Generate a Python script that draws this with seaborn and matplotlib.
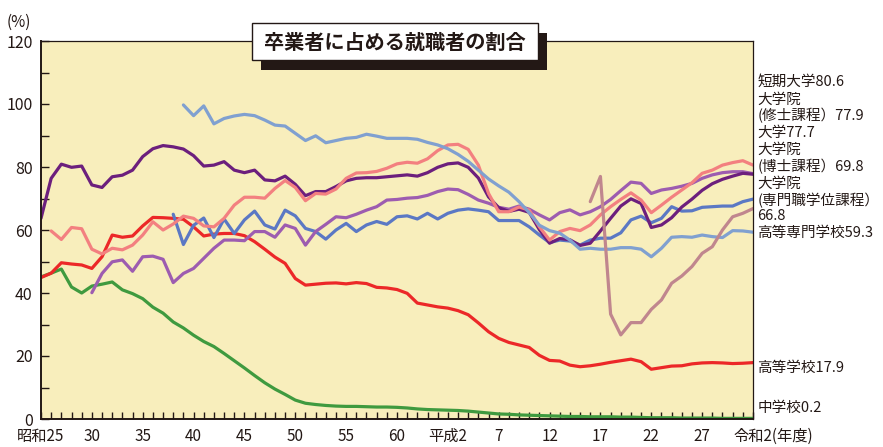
"""卒業者に占める就職者の割合 (学校種別, 昭和25年度～令和2年度)."""

import pandas as pd
import seaborn as sns
import matplotlib.pyplot as plt
import matplotlib.transforms as mtransforms
from matplotlib.patches import Rectangle
from matplotlib.ticker import MultipleLocator

# --- data (年度 = western year, 1950 = 昭和25) ---
JHS_START = 1950
JHS = [45.1, 46.3, 47.6, 41.9, 40.0, 42.2, 42.8, 43.5, 41.0, 39.8,
       38.2, 35.5, 33.6, 30.8, 28.9, 26.6, 24.6, 23.0, 20.8, 18.5,
       16.2, 13.8, 11.5, 9.5, 7.8, 6.0, 5.0, 4.6, 4.3, 4.1,
       4.0, 4.0, 3.9, 3.8, 3.8, 3.7, 3.5, 3.2, 3.0, 2.9,
       2.8, 2.7, 2.5, 2.2, 1.9, 1.6, 1.5, 1.3, 1.2, 1.1,
       1.0, 0.9, 0.8, 0.8, 0.7, 0.7, 0.7, 0.6, 0.6, 0.5,
       0.4, 0.4, 0.4, 0.3, 0.3, 0.3, 0.3, 0.2, 0.2, 0.2, 0.2]

HS_START = 1950
HS = [44.9, 46.3, 49.6, 49.2, 48.9, 47.8, 51.5, 58.4, 57.7, 58.1,
      61.3, 64.0, 63.9, 63.7, 63.4, 61.0, 58.1, 58.7, 58.9, 58.9,
      58.2, 56.3, 53.9, 51.4, 49.4, 44.6, 42.5, 42.8, 43.1, 43.2,
      42.9, 43.3, 43.0, 41.8, 41.6, 41.1, 39.9, 36.8, 36.2, 35.6,
      35.2, 34.4, 33.1, 30.5, 27.7, 25.6, 24.3, 23.5, 22.7, 20.2,
      18.6, 18.4, 17.1, 16.6, 16.9, 17.4, 18.0, 18.5, 19.0, 18.2,
      15.8, 16.3, 16.8, 16.9, 17.5, 17.8, 17.9, 17.8, 17.6, 17.7, 17.9]

JC_START = 1951
JC = [59.7, 57.0, 60.8, 60.4, 53.9, 52.4, 54.2, 53.7, 55.2,
      58.4, 62.6, 60.0, 61.9, 64.4, 63.7, 61.3, 61.0, 63.7, 67.9,
      70.4, 70.4, 70.1, 73.2, 75.7, 73.5, 69.3, 71.6, 71.4, 73.0,
      76.4, 78.1, 78.2, 78.6, 79.6, 81.0, 81.5, 81.2, 82.6, 85.2,
      87.0, 87.2, 85.6, 80.6, 71.6, 65.8, 65.8, 67.3, 66.3, 61.0,
      56.8, 59.5, 60.5, 59.8, 61.6, 64.8, 67.4, 69.7, 71.8, 69.5,
      65.5, 67.9, 70.4, 72.7, 75.0, 78.0, 79.0, 80.6, 81.4, 82.0, 80.6]

UNIV_START = 1950
UNIV = [63.7, 76.4, 80.9, 79.9, 80.3, 74.3, 73.5, 76.9, 77.4, 79.0,
        83.3, 85.8, 86.8, 86.4, 85.7, 83.6, 80.3, 80.6, 81.7, 79.0,
        78.2, 79.0, 75.9, 75.6, 77.1, 74.5, 70.9, 72.2, 72.2, 73.8,
        75.6, 76.4, 76.6, 76.6, 76.9, 77.2, 77.5, 77.1, 78.2, 79.9,
        81.0, 81.3, 79.9, 76.5, 70.5, 67.1, 65.9, 66.6, 65.6, 60.1,
        55.8, 57.3, 56.9, 55.1, 55.8, 59.7, 63.7, 67.6, 69.9, 68.4,
        60.8, 61.6, 63.9, 67.3, 69.8, 72.6, 74.7, 76.1, 77.1, 78.0, 77.7]

MASTER_START = 1955
MASTER = [40.1, 46.2, 49.9, 50.5, 46.9,
          51.5, 51.7, 50.7, 43.3, 46.2, 47.8, 51.0, 54.2, 56.8, 56.8,
          56.6, 59.5, 59.5, 57.7, 61.6, 60.5, 55.2, 59.5, 61.8, 64.2,
          63.9, 65.0, 66.3, 67.4, 69.5, 69.7, 70.1, 70.3, 71.0, 72.2,
          73.0, 72.8, 71.3, 69.5, 68.5, 67.2, 66.6, 67.6, 66.6, 64.8,
          63.2, 65.5, 66.4, 64.8, 65.8, 67.4, 69.7, 72.5, 75.2, 74.8,
          71.6, 72.7, 73.2, 73.9, 74.8, 76.4, 77.5, 78.2, 78.5, 78.5, 77.9]

DOCTOR_START = 1963
DOCTOR = [65.0, 55.4, 61.5, 63.8, 57.6, 63.5, 58.9,
          63.2, 66.0, 61.6, 60.3, 66.3, 64.5, 60.5, 59.5, 57.1, 60.0,
          62.1, 59.5, 61.6, 62.7, 61.8, 64.2, 64.5, 63.5, 65.3, 63.5,
          65.3, 66.3, 66.7, 66.3, 65.8, 63.0, 63.0, 63.0, 61.0, 58.4,
          56.0, 56.8, 56.5, 55.2, 56.8, 57.4, 57.4, 59.1, 63.2, 64.4,
          62.3, 63.7, 67.4, 66.0, 66.1, 67.2, 67.4, 67.6, 67.6, 69.0, 69.8]

KOSEN_START = 1964
KOSEN = [99.7, 96.3, 99.4, 93.7, 95.4, 96.2,
         96.7, 96.3, 94.9, 93.3, 93.0, 90.7, 88.4, 89.9, 87.7, 88.4,
         89.1, 89.4, 90.4, 89.8, 89.1, 89.1, 89.1, 88.8, 87.8, 87.0,
         85.8, 84.0, 81.8, 79.0, 76.2, 74.0, 72.0, 69.0, 65.5, 61.5,
         59.8, 59.0, 56.8, 53.9, 54.2, 53.9, 53.9, 54.4, 54.4, 53.9,
         51.5, 54.2, 57.7, 57.9, 57.7, 58.4, 57.9, 57.6, 59.8, 59.7, 59.3]

PROF_START = 2004
PROF = [69.0, 77.0, 33.3, 26.7, 30.6, 30.6, 34.8, 37.8, 43.1, 45.4,
        48.4, 52.6, 54.7, 60.0, 64.2, 65.3, 66.8]

SERIES = [
    ("中学校", JHS_START, JHS, "#3f9a3f"),
    ("高等学校", HS_START, HS, "#ec2828"),
    ("大学院（博士課程）", DOCTOR_START, DOCTOR, "#5b78c4"),
    ("大学院（修士課程）", MASTER_START, MASTER, "#9d5cb0"),
    ("大学", UNIV_START, UNIV, "#6c1f7d"),
    ("短期大学", JC_START, JC, "#f38080"),
    ("高等専門学校", KOSEN_START, KOSEN, "#80a0d0"),
    ("大学院（専門職学位課程）", PROF_START, PROF, "#c0868e"),
]

XTICK_YEARS = list(range(1950, 2021, 5))
XTICK_LABELS = ["昭和25", "30", "35", "40", "45", "50", "55", "60",
                "平成2", "7", "12", "17", "22", "27", "令和2(年度)"]

# end labels: (text, y position in data units)
END_LABELS = [
    ("短期大学80.6", 107.1),
    ("大学院", 101.3),
    ("(修士課程）77.9", 96.4),
    ("大学77.7", 90.9),
    ("大学院", 85.6),
    ("(博士課程）69.8", 80.1),
    ("大学院", 74.6),
    ("(専門職学位課程）", 69.5),
    ("66.8", 64.5),
    ("高等専門学校59.3", 59.0),
    ("高等学校17.9", 16.3),
    ("中学校0.2", 3.4),
]

TEXT = "#231815"
W, H = 883, 447


def main():
    rows = []
    for name, start, values, _ in SERIES:
        for i, v in enumerate(values):
            rows.append({"年度": start + i, "割合": v, "区分": name})
    df = pd.DataFrame(rows)
    palette = {name: color for name, _, _, color in SERIES}
    order = [name for name, _, _, _ in SERIES]

    sns.set_style("ticks")
    plt.rcParams["font.family"] = ["Noto Sans CJK JP", "DejaVu Sans"]
    plt.rcParams["font.size"] = 11

    fig = plt.figure(figsize=(W / 100, H / 100), dpi=100)
    ax = fig.add_axes([41 / W, 1 - 419 / H, 712 / W, 378 / H])
    ax.set_facecolor("#f8eebc")

    sns.lineplot(data=df, x="年度", y="割合", hue="区分", hue_order=order,
                 palette=palette, linewidth=2.3, legend=False, ax=ax)

    ax.set_xlim(1950, 2020)
    ax.set_ylim(0, 120)
    ax.set_xlabel("")
    ax.set_ylabel("")

    ax.set_xticks(XTICK_YEARS, labels=XTICK_LABELS)
    ax.xaxis.set_minor_locator(MultipleLocator(1))
    ax.set_yticks(range(0, 121, 20))
    ax.yaxis.set_minor_locator(MultipleLocator(10))
    ax.tick_params(axis="both", which="both", direction="in", color=TEXT,
                   width=1.0, labelcolor=TEXT)
    ax.tick_params(axis="x", which="both", length=5, pad=6.5, labelsize=11)
    ax.tick_params(axis="y", which="both", length=5.5, pad=6, labelsize=11.5)

    # last x label reads "令和2(年度)": anchor its left edge just left of the tick
    last = ax.get_xticklabels()[-1]
    last.set_horizontalalignment("left")
    last.set_transform(last.get_transform() + mtransforms.ScaledTranslation(
        -0.20, 0, fig.dpi_scale_trans))

    for side in ["left", "bottom"]:
        ax.spines[side].set_linewidth(1.4)
        ax.spines[side].set_color(TEXT)
    for side in ["top", "right"]:
        ax.spines[side].set_linewidth(0.9)
        ax.spines[side].set_color(TEXT)

    # series labels at right edge
    trans = mtransforms.blended_transform_factory(ax.transAxes, ax.transData)
    for text, y in END_LABELS:
        ax.text(1.006, y, text, transform=trans, ha="left", va="center",
                fontsize=10.5, color=TEXT, clip_on=False)

    fig.text(7 / W, 1 - 22 / H, "(%)", ha="left", va="center",
             fontsize=11, color=TEXT)

    # title box with drop shadow
    shadow = Rectangle((261 / W, 1 - 70 / H), 286 / W, 37 / H,
                       transform=fig.transFigure, facecolor=TEXT,
                       edgecolor="none", zorder=5)
    box = Rectangle((252 / W, 1 - 60 / H), 286 / W, 37 / H,
                    transform=fig.transFigure, facecolor="white",
                    edgecolor=TEXT, linewidth=1.0, zorder=6)
    fig.add_artist(shadow)
    fig.add_artist(box)
    fig.text(395 / W, 1 - 42 / H, "卒業者に占める就職者の割合", ha="center",
             va="center", fontsize=14.5, fontweight="bold", color=TEXT,
             zorder=7)

    fig.savefig("out.png", dpi=100, facecolor="white")
    plt.close(fig)


if __name__ == "__main__":
    main()
